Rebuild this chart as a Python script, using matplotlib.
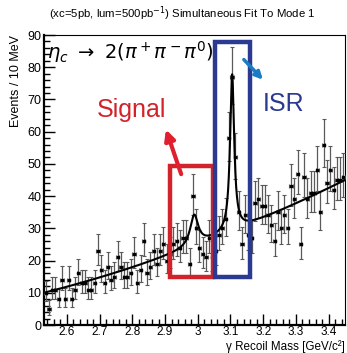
import numpy as np
import matplotlib
matplotlib.use("Agg")
import matplotlib.pyplot as plt
from matplotlib.ticker import MultipleLocator, FormatStrFormatter
from matplotlib.patches import Rectangle, FancyArrowPatch

plt.rcParams['font.family'] = ['Liberation Sans', 'DejaVu Sans']

# ---- data ----
x_min, x_max = 2.53, 3.45
bin_width = 0.01
counts = [10, 5, 11, 11, 8, 14, 8, 14, 8, 11,
          16, 13, 13, 11, 11, 13, 23, 17, 13, 18,
          14, 15, 21, 18, 15, 15, 16, 22, 13, 17,
          26, 16, 18, 23, 19, 23, 25, 20, 22, 25,
          26, 24, 27, 27, 19, 40, 30, 24, 22, 21,
          27, 21, 23, 28, 30, 33, 58, 77, 52, 35,
          25, 34, 28, 27, 38, 39, 37, 37, 34, 31,
          26, 35, 30, 34, 30, 43, 39, 47, 25, 46,
          39, 41, 41, 48, 35, 56, 44, 48, 42, 45,
          45, 46]
# fit model parameters
bkg_coef = [10.0, 25.5, 13.6]       # polynomial in (m - x_min)
sig_mass, sig_amp, sig_gamma = 2.989, 9.5, 0.015
isr_mass, isr_amp, isr_gamma = 3.105, 48.5, 0.0075

title = "(xc=5pb, lum=500pb$^{-1}$) Simultaneous Fit To Mode 1"
xlabel = "γ Recoil Mass [GeV/c²]"
ylabel = "Events / 10 MeV"

counts = np.array(counts, dtype=float)
centers = x_min + bin_width * (np.arange(len(counts)) + 0.5)
err_up = np.sqrt(counts + 0.25) + 0.5
err_lo = np.sqrt(counts + 0.25) - 0.5

m = np.linspace(x_min, x_max, 1500)
t = m - x_min
bkg = bkg_coef[0] + bkg_coef[1] * t + bkg_coef[2] * t ** 2
fit = (bkg + sig_amp / (1 + ((m - sig_mass) / sig_gamma) ** 2)
       + isr_amp / (1 + ((m - isr_mass) / isr_gamma) ** 2))

fig = plt.figure(figsize=(3.47, 3.53), dpi=100)
ax = fig.add_axes([44 / 347, 28 / 353, 301 / 347, 290 / 353])

ax.errorbar(centers, counts, yerr=[err_lo, err_up], xerr=bin_width / 2,
            fmt='s', ms=1.8, color='black', ecolor='#5a5a5a', elinewidth=0.9,
            capsize=1.2, capthick=0.8, zorder=3)
ax.plot(m, fit, color='black', lw=1.5, zorder=4)

ax.set_xlim(x_min, x_max)
ax.set_ylim(0, 90)
ax.xaxis.set_major_locator(MultipleLocator(0.1))
ax.xaxis.set_minor_locator(MultipleLocator(0.02))
ax.yaxis.set_major_locator(MultipleLocator(10))
ax.yaxis.set_minor_locator(MultipleLocator(2))
ax.xaxis.set_major_formatter(FormatStrFormatter('%g'))
ax.tick_params(which='both', direction='in', top=False, right=False,
               labelsize=9, width=1.0)
ax.tick_params(which='major', length=8)
ax.tick_params(which='minor', length=4.5)
ax.tick_params(axis='y', pad=2)
ax.tick_params(axis='x', pad=0.8, labelsize=8.5)
for s in ['left', 'bottom']:
    ax.spines[s].set_linewidth(1.6)
for s in ['top', 'right']:
    ax.spines[s].set_linewidth(0.8)

fig.text(0.525, 1 - 14 / 353, title, ha='center', va='center', fontsize=8.2)
fig.text(345 / 347, 1 - 350 / 353, xlabel, ha='right', va='baseline', fontsize=8.4)
ax.set_ylabel(ylabel, fontsize=9, ha='right', y=1.0, labelpad=4)

ax.text(0.01, 0.985, r"$\eta_c\ \rightarrow\ 2(\pi^+\pi^-\pi^0)$", transform=ax.transAxes,
        ha='left', va='top', fontsize=14)

red = '#d2232a'
blue = '#2b3990'
ax.add_patch(Rectangle((2.916, 14.9), 3.047 - 2.916, 49.3 - 14.9, fill=False,
                       ec=red, lw=3.2, zorder=5))
ax.add_patch(Rectangle((3.053, 14.9), 3.159 - 3.053, 87.8 - 14.9, fill=False,
                       ec=blue, lw=3.2, zorder=5))
ax.text(2.692, 64.5, "Signal", color=red, fontsize=18, ha='left', va='baseline')
ax.text(3.2, 66.5, "ISR", color=blue, fontsize=18, ha='left', va='baseline')
ax.add_patch(FancyArrowPatch((2.952, 46), (2.900, 61.5), arrowstyle='-|>',
                             mutation_scale=15, color='#e0202e', lw=3, zorder=6))
ax.add_patch(FancyArrowPatch((3.135, 83), (3.205, 75.5), arrowstyle='-|>',
                             mutation_scale=11, color='#1b7cc4', lw=2.5, zorder=6))

fig.savefig('out.png', dpi=100)
